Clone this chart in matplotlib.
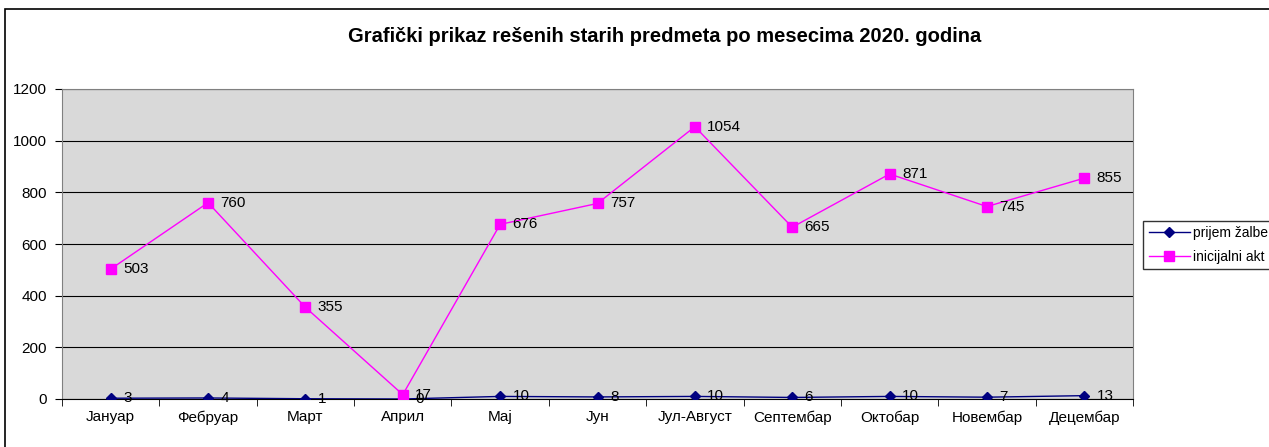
import matplotlib
matplotlib.use("Agg")
import matplotlib.pyplot as plt
from matplotlib.patches import Rectangle
import numpy as np

plt.rcParams['font.family'] = ['Liberation Sans', 'DejaVu Sans']

months = ["Јануар", "Фебруар", "Март", "Април", "Мај", "Јун", "Јул-Август",
          "Септембар", "Октобар", "Новембар", "Децембар"]
prijem_zalbe = [3, 4, 1, 0, 10, 8, 10, 6, 10, 7, 13]
inicijalni_akt = [503, 760, 355, 17, 676, 757, 1054, 665, 871, 745, 855]
yticks = [0, 200, 400, 600, 800, 1000, 1200]
title = "Grafički prikaz rešenih starih predmeta po mesecima 2020. godina"

fig = plt.figure(figsize=(12.69, 4.47), dpi=100)
# outer frame
fig.patches.append(Rectangle((5/1269, -0.1), 1.2, 1 - 9/447 + 0.1, transform=fig.transFigure,
                             fill=False, edgecolor='black', linewidth=1.2))
ax = fig.add_axes([62/1269, 1 - 399/447, (1133 - 62)/1269, (399 - 89)/447])
ax.set_facecolor('#D9D9D9')
x = np.arange(len(months))
ax.plot(x, prijem_zalbe, color='#000080', marker='D', markersize=5, linewidth=1, zorder=3,
        label='prijem žalbe')
ax.plot(x, inicijalni_akt, color='#FF00FF', marker='s', markersize=7, linewidth=1, zorder=3,
        label='inicijalni akt')
for xi, v in zip(x, prijem_zalbe):
    ax.annotate(str(v), (xi, v), xytext=(9, 0), textcoords='offset points',
                va='center', ha='left', fontsize=11)
for xi, v in zip(x, inicijalni_akt):
    ax.annotate(str(v), (xi, v), xytext=(9, 0), textcoords='offset points',
                va='center', ha='left', fontsize=11)

ax.set_xlim(-0.5, len(months) - 0.5)
ax.set_ylim(0, 1200)
ax.set_yticks(yticks)
ax.set_yticklabels([str(t) for t in yticks], fontsize=11)
ax.yaxis.grid(True, color='black', linewidth=0.8)
ax.set_axisbelow(True)
ax.set_xticks(x)
ax.set_xticklabels(months, fontsize=11)
ax.tick_params(axis='x', length=0, pad=8)
ax.set_xticks(np.arange(-0.5, len(months), 1), minor=True)
ax.tick_params(axis='x', which='minor', length=5, direction='out')
ax.tick_params(axis='y', length=5, direction='out', pad=6)
for s in ['top', 'right']:
    ax.spines[s].set_color('#808080')
ax.spines['left'].set_color('#808080')
ax.spines['bottom'].set_color('black')

fig.text(665 / 1269, 1 - 36/447, title, ha='center', va='center',
         fontsize=14.5, fontweight='bold')

leg = fig.legend(loc='center left', bbox_to_anchor=(1143/1269, 1 - 245/447), fontsize=10,
                 frameon=True, fancybox=False, edgecolor='black', handlelength=3,
                 borderpad=0.4, labelspacing=0.7, handletextpad=0.2, borderaxespad=0)
leg.get_frame().set_linewidth(1)

fig.savefig("out.png", dpi=100)
